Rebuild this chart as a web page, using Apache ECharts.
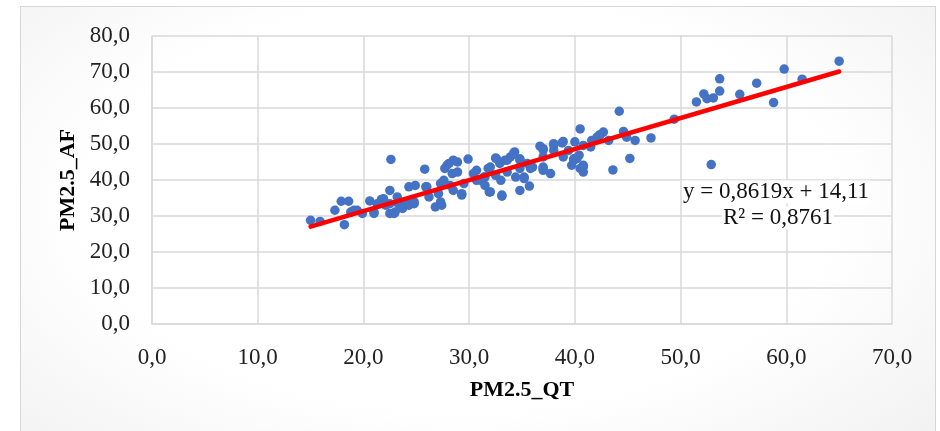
<!DOCTYPE html>
<html>
<head>
<meta charset="utf-8">
<script src="https://cdn.jsdelivr.net/npm/echarts@6/dist/echarts.min.js"></script>
<style>
html,body{margin:0;padding:0;width:940px;height:431px;overflow:hidden;background:#ffffff;}
#frame{position:absolute;left:20px;top:6px;width:914px;height:440px;border:1px solid #d6d6d6;
background:radial-gradient(ellipse 75% 85% at 48% 45%, #ffffff 55%, #efefef 100%);}
#chart{position:absolute;left:0;top:0;width:940px;height:431px;}
</style>
</head>
<body>
<div id="frame"></div>
<div id="chart"></div>
<script>
// PM2.5_QT (x) values
var qt = [65.0,59.8,61.5,57.2,58.8,55.6,53.7,53.7,52.2,52.5,53.1,51.5,49.4,52.9,
44.2,40.5,47.2,45.7,45.2,43.6,44.6,44.9,42.7,42.4,42.1,41.6,43.2,40.8,40.0,39.9,40.2,39.7,40.8,40.5,40.8,38.9,38.0,38.0,38.9,37.0,37.0,37.7,37.0,
36.7,37.0,34.3,32.5,29.9,25.8,28.5,28.1,28.9,27.7,28.9,28.4,30.7,30.4,31.8,32.9,33.4,33.9,34.8,35.5,36.0,34.8,35.2,34.8,35.7,33.1,31.9,31.1,31.5,32.5,33.6,27.3,27.6,28.2,28.5,29.3,29.5,25.9,26.2,26.8,27.4,27.1,37.0,
22.6,15.0,15.9,18.2,17.3,17.9,18.6,18.8,19.4,19.9,20.6,21.0,21.7,22.1,22.5,22.5,23.0,23.7,24.3,24.3,24.9,24.8,23.3,
21.9,22.5,22.9,23.5,24.1,24.8,26.0,19.1,21.0,23.2,21.3,
27.9,29.3,27.3,30.7,31.4,32.0,32.6,33.6,34.2,32.0,33.1,31.5,33.0,34.4,
38.0,38.8,41.5,42.3,37.0,39.9,40.8,35.2,34.8,35.8,39.4,40.4];
// PM2.5_AF (y) values
var af = [73.0,70.8,68.0,66.9,61.5,63.8,68.1,64.7,63.9,62.6,62.8,61.7,56.9,44.3,
59.1,54.2,51.7,51.0,46.0,42.8,53.5,51.9,53.3,52.6,51.9,51.0,51.0,49.6,50.6,45.9,45.9,44.1,44.1,43.2,42.2,50.7,50.1,48.2,46.4,48.7,46.4,41.8,43.2,
49.4,48.3,47.8,46.1,45.8,43.0,45.5,44.6,45.0,43.2,42.2,41.8,42.7,41.8,43.2,44.6,45.5,46.4,45.9,44.6,43.6,43.2,40.4,37.1,38.3,35.5,36.7,39.9,40.8,41.3,42.2,39.0,39.9,38.5,37.1,35.8,39.0,38.1,35.3,32.5,33.0,36.2,42.7,
45.7,28.8,28.5,27.6,31.6,34.1,34.1,31.1,31.6,30.7,34.2,31.1,34.6,33.0,37.1,30.7,31.1,32.1,33.0,38.1,38.5,33.4,33.4,
34.8,33.4,30.7,32.5,33.9,33.9,38.1,31.6,30.7,35.3,33.4,
44.1,36.2,33.9,39.9,40.8,43.6,45.9,45.5,47.3,36.7,35.8,38.5,39.9,40.8,
49.6,50.3,49.2,52.4,43.6,45.5,43.6,40.8,45.5,43.2,48.2,46.9];
// trend line end points (Excel linear trendline)
var trendX = [15.0, 65.0];
var trendY = [27.04, 70.13];
var eqLine1 = 'y = 0,8619x + 14,11';
var eqLine2 = 'R² = 0,8761';
var xName = 'PM2.5_QT';
var yName = 'PM2.5_AF';

var pts = qt.map(function(v,i){return [v, af[i]];});
var trend = trendX.map(function(v,i){return [v, trendY[i]];});
var fmt = function(v){return v.toFixed(1).replace('.', ',');};
var FONT = "'Liberation Serif','Times New Roman',serif";

var chart = echarts.init(document.getElementById('chart'), null, {renderer:'canvas'});
chart.setOption({
  backgroundColor: 'transparent',
  animation: false,
  grid: {left:152, right:48, top:36, bottom:107, containLabel:false},
  xAxis: {
    type:'value', min:0, max:70, interval:10,
    name: xName, nameLocation:'middle', nameGap:55,
    nameTextStyle:{fontFamily:FONT, fontWeight:'bold', fontSize:22, color:'#000'},
    axisLine:{show:true, lineStyle:{color:'#d9d9d9', width:1.5}},
    axisTick:{show:false},
    axisLabel:{formatter:fmt, fontFamily:FONT, fontSize:23, color:'#222', margin:22},
    splitLine:{show:true, lineStyle:{color:'#d9d9d9', width:1.5}}
  },
  yAxis: {
    type:'value', min:0, max:80, interval:10,
    name: yName, nameLocation:'middle', nameGap:72, nameRotate:90,
    nameTextStyle:{fontFamily:FONT, fontWeight:'bold', fontSize:22, color:'#000'},
    axisLine:{show:true, lineStyle:{color:'#d9d9d9', width:1.5}},
    axisTick:{show:false},
    axisLabel:{formatter:fmt, fontFamily:FONT, fontSize:23, color:'#222', margin:22},
    splitLine:{show:true, lineStyle:{color:'#d9d9d9', width:1.5}}
  },
  series: [
    {type:'scatter', data:pts, symbolSize:9.5, itemStyle:{color:'#4472C4', opacity:1}, z:2},
    {type:'line', data:trend, showSymbol:false, symbol:'none', lineStyle:{color:'#ff0000', width:4.5, cap:'round'}, z:3}
  ],
  graphic: [
    {type:'text', x:776, y:192, z:10, style:{text:eqLine1, font:'23px '+FONT, fill:'#111', align:'center', verticalAlign:'middle', backgroundColor:'#ffffff', padding:[0,1]}},
    {type:'text', x:778, y:218, z:10, style:{text:eqLine2, font:'23px '+FONT, fill:'#111', align:'center', verticalAlign:'middle', backgroundColor:'#ffffff', padding:[0,1]}}
  ]
});
</script>
</body>
</html>
